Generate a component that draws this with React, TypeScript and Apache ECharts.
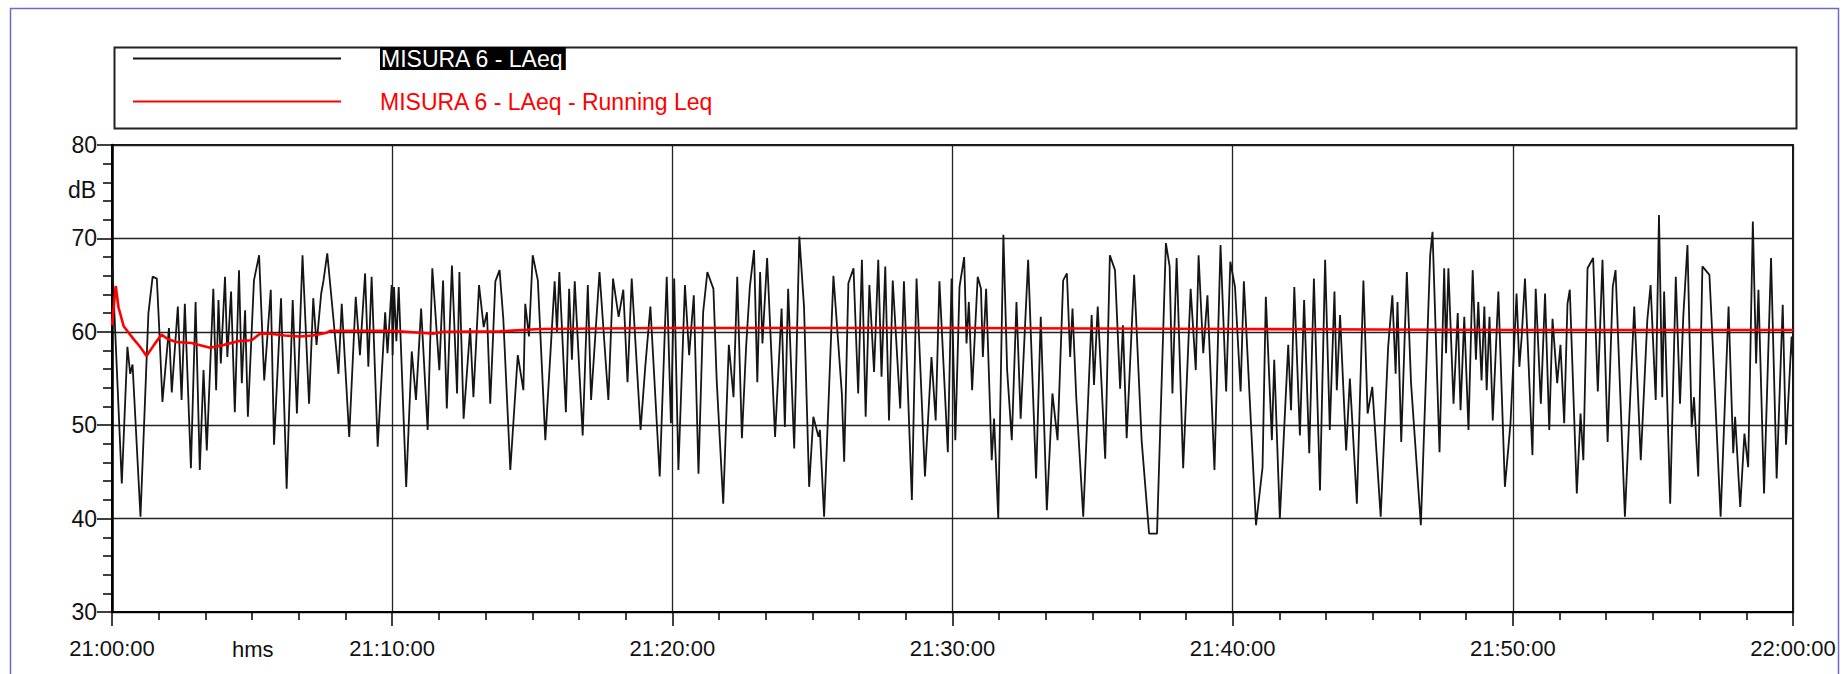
import React, { useEffect, useRef } from "react";
import * as echarts from "echarts";

const FONT = "'Liberation Sans', Arial, Helvetica, sans-serif";
const NAME_LAEQ = "MISURA 6 - LAeq";
const NAME_RUN = "MISURA 6 - LAeq - Running Leq";

const X_TICK_LABELS = ["21:00:00", "21:10:00", "21:20:00", "21:30:00", "21:40:00", "21:50:00", "22:00:00"];

// seconds after 21:00:00
const laeqSeconds = [
  0, 1, 21, 33, 39, 44, 61, 78, 87, 96, 101, 108, 122, 128, 141, 149, 156, 169, 179, 188, 196, 203, 217, 223, 228, 233, 242, 247, 255, 263, 272, 278, 285, 291, 304, 315, 326, 340, 347, 362, 374, 387, 396, 408, 422, 431, 438, 448, 453, 461, 474, 485, 492, 508, 522, 531, 542, 549, 556, 569, 585, 590, 599,
  601, 604, 609, 614, 630, 642, 651, 662, 676, 686, 701, 709, 717, 728, 739, 744, 753, 767, 774, 786, 796, 803, 810, 821, 830, 838, 853, 869, 881, 885, 893, 901, 912, 928, 948, 953, 958, 972, 979, 985, 991, 1008, 1019, 1026, 1044, 1063, 1073, 1085, 1095, 1104, 1113, 1132, 1142, 1153, 1173, 1188, 1197,
  1204, 1213, 1227, 1236, 1246, 1256, 1266, 1275, 1288, 1295, 1309, 1321, 1331, 1339, 1349, 1358, 1366, 1375, 1382, 1388, 1393, 1403, 1420, 1434, 1441, 1448, 1461, 1472, 1482, 1493, 1502, 1513, 1516, 1525, 1545, 1563, 1568, 1577, 1588, 1598, 1606, 1614, 1622, 1632, 1641, 1648, 1656, 1664, 1672, 1688, 1696, 1713, 1723, 1741, 1755, 1764, 1772, 1790, 1798,
  1806, 1815, 1825, 1830, 1835, 1842, 1854, 1861, 1865, 1872, 1884, 1889, 1898, 1909, 1917, 1927, 1937, 1946, 1962, 1979, 1989, 2002, 2014, 2025, 2037, 2045, 2052, 2057, 2065, 2080, 2098, 2103, 2111, 2127, 2137, 2148, 2159, 2165, 2173, 2189, 2205, 2221, 2238, 2257, 2265, 2271, 2280, 2294, 2310, 2321, 2327, 2337, 2346, 2361, 2374, 2386, 2395, 2405,
  2417, 2424, 2450, 2464, 2471, 2484, 2489, 2501, 2519, 2525, 2532, 2544, 2553, 2564, 2574, 2587, 2598, 2608, 2618, 2623, 2630, 2643, 2651, 2666, 2680, 2689, 2699, 2717, 2733, 2742, 2749, 2753, 2761, 2773, 2782, 2803, 2823, 2828, 2843, 2853, 2857, 2862, 2873, 2882, 2888, 2896, 2905, 2914, 2921, 2926, 2933, 2939, 2944, 2950, 2957, 2969, 2983, 2995,
  3008, 3014, 3019, 3026, 3042, 3049, 3060, 3069, 3078, 3085, 3095, 3102, 3110, 3117, 3122, 3137, 3145, 3151, 3160, 3172, 3182, 3192, 3203, 3214, 3220, 3240, 3260, 3274, 3288, 3295, 3306, 3313, 3320, 3324, 3337, 3349, 3358, 3365, 3374, 3383, 3388, 3397, 3406, 3421, 3426, 3445, 3462, 3472, 3476, 3487, 3496, 3504, 3514, 3521, 3526, 3538, 3553, 3565, 3578, 3585, 3597, 3600,
];

const laeqDb = [
  65.5, 66.8, 43.75, 58.4, 55.5, 56.5, 40.2, 62, 65.9, 65.7, 60.5, 52.5, 60.4, 53.5, 62.7, 52.7, 63, 45.4, 63.2, 45.2, 55.9, 47.3, 64.6, 53.75, 63.4, 56.6, 65.9, 57.3, 64.3, 51.4, 66.6, 54.5, 62.3, 50.9, 65.5, 68.2, 54.8, 64.5, 47.9, 63.6, 43.2, 63.4, 51.25, 68.2, 52.3, 63.6, 58.6, 64.1, 65.5, 68.4, 61.5, 55.5, 63, 48.75, 63.75, 57.5, 66.25, 56.25, 65.9, 47.7, 62.1, 57.7, 65,
  57.5, 64.8, 59, 64.8, 43.4, 57.9, 52.7, 62.5, 49.5, 66.8, 55.9, 65.5, 51.8, 67.1, 53.4, 66.4, 50.7, 60.4, 53, 65, 60.5, 62.1, 52.3, 65.4, 66.6, 61.4, 45.2, 57.5, 53.75, 63, 59.5, 68.2, 65.5, 48.4, 65.4, 60, 66.4, 51.4, 64.6, 57, 65.4, 48.9, 65, 52.7, 66.4, 52.7, 65.7, 61.6, 64.5, 54.6, 65.7, 49.5, 56.25, 62.7, 44.5, 65.9, 50.2,
  65.7, 45.2, 65, 57.5, 63.9, 44.8, 62.1, 66.4, 64.6, 54.8, 41.6, 58.6, 53, 65.9, 48.6, 58.4, 64.8, 68.75, 54.6, 66.4, 58.75, 67.9, 48.75, 62.5, 49.8, 64.6, 47.5, 70.2, 62.7, 43.4, 50.9, 48.75, 49.5, 40.2, 66, 53.4, 46.1, 65.2, 66.8, 53.4, 67.7, 50.9, 65, 55.7, 67.7, 55.2, 67, 50.5, 65.5, 51.8, 65.4, 42, 65.7, 44.5, 57.3, 50.5, 65.4, 47.1, 65.7,
  48.4, 64.8, 68, 58.75, 63.2, 53.75, 65.9, 64.6, 57.3, 64.6, 46.25, 50.7, 40, 70.4, 55.9, 48.4, 63.2, 50.7, 67.7, 44.3, 61.6, 40.9, 53.4, 48.4, 65.5, 66.25, 57.3, 62.5, 53, 40.2, 61.8, 54.3, 62.7, 46.4, 68.2, 66.6, 53.9, 60.7, 48.6, 66.1, 48.4, 38.4, 38.4, 69.5, 67, 53.4, 67.9, 45.4, 64.6, 55.9, 68.2, 57.7, 63.9, 45.2, 69.3, 53.6, 67.5, 64.8,
  53.6, 65.4, 39.3, 45.5, 63.75, 48.4, 57, 40, 58.6, 51.6, 64.8, 48.9, 63.4, 47, 65.7, 43, 67.7, 49.5, 64.3, 53.75, 61.8, 47.3, 55, 41.6, 65.5, 51.25, 54.1, 40.2, 58.4, 63.9, 55.5, 63.2, 48.2, 66.4, 54.5, 39.3, 68.2, 70.7, 47.1, 66.8, 57.7, 66.8, 52.3, 62, 51.6, 61.6, 49.5, 66.6, 57, 63.2, 54.8, 62.7, 53.75, 61.6, 50.5, 64.3, 43.4, 50.2,
  64.1, 56.25, 59.5, 65.7, 46.8, 64.6, 52.3, 64.1, 49.5, 61.4, 54.5, 58.6, 50.2, 63, 64.5, 42.7, 51.25, 46.25, 66.8, 67.9, 53.6, 67.7, 48.2, 64.8, 66.6, 40.2, 62.7, 46.25, 61.25, 65, 52.7, 72.5, 53, 64.3, 41.6, 65.9, 52.3, 61.6, 69.3, 49.8, 53, 44.5, 67, 66.1, 60.9, 40.2, 62.7, 47, 50.9, 41.25, 49.1, 45.5, 71.8, 56.6, 64.5, 42.7, 67.9, 44.3, 62.9, 47.9, 59.5, 57,
];

const runSeconds = [0, 8, 14, 25, 45, 60, 74, 90, 106, 120, 138, 170, 210, 240, 270, 299, 317, 340, 370, 402, 430, 460, 467, 520, 600, 660, 688, 709, 830, 916, 1045, 1200, 1500, 1800, 2100, 2400, 2700, 3000, 3300, 3600];
const runDb = [60.7, 64.9, 62.6, 60.6, 59.3, 58.4, 57.4, 58.6, 59.7, 59.2, 58.9, 58.8, 58.3, 58.6, 59.0, 59.1, 59.8, 59.8, 59.6, 59.5, 59.6, 59.9, 60.1, 60.1, 60.1, 59.9, 59.8, 60.0, 60.05, 60.3, 60.35, 60.4, 60.4, 60.4, 60.35, 60.3, 60.25, 60.2, 60.2, 60.2];

const zip = (xs: number[], ys: number[]) => xs.map((x, i) => [x, ys[i]]);

export default function App() {
  const ref = useRef<HTMLDivElement>(null);
  useEffect(() => {
    const chart = echarts.init(ref.current as HTMLDivElement, null, { renderer: "svg" });
    const option: any = {
      animation: false,
      backgroundColor: "#ffffff",
      textStyle: { fontFamily: FONT },
      grid: {
        left: 112,
        top: 145,
        width: 1681,
        height: 467,
        show: true,
        borderColor: "#111",
        borderWidth: 2,
        backgroundColor: "transparent",
      },
      legend: {
        orient: "vertical",
        left: 128,
        top: 42,
        itemWidth: 208,
        itemHeight: 2,
        itemGap: 20,
        icon: "rect",
        selectedMode: false,
        data: [NAME_LAEQ, NAME_RUN],
        formatter: (n: string) => (n === NAME_LAEQ ? `{sp|}{hl|${n}}` : `{sp|}{rd|${n}}`),
        textStyle: {
          fontFamily: FONT,
          fontSize: 23,
          rich: {
            sp: { width: 34 },
            hl: { backgroundColor: "#000", color: "#fff", fontSize: 23, fontFamily: FONT, lineHeight: 28, padding: [0, 2, 0, 1] },
            rd: { color: "#ff0000", fontSize: 23, fontFamily: FONT, lineHeight: 28 },
          },
        },
      },
      xAxis: {
        type: "value",
        min: 0,
        max: 3600,
        interval: 600,
        axisLine: { show: true, lineStyle: { color: "#000", width: 2 } },
        axisTick: { show: true, inside: false, length: 14, lineStyle: { color: "#000", width: 1.5 } },
        minorTick: { show: true, splitNumber: 6, length: 8, lineStyle: { color: "#000", width: 1.5 } },
        splitLine: { show: true, lineStyle: { color: "#222", width: 1.3 } },
        axisLabel: {
          margin: 25,
          fontSize: 22,
          fontFamily: FONT,
          color: "#111",
          formatter: (v: number) => X_TICK_LABELS[Math.round(v / 600)],
        },
      },
      yAxis: {
        type: "value",
        min: 30,
        max: 80,
        interval: 10,
        axisLine: { show: true, lineStyle: { color: "#000", width: 2.5 } },
        axisTick: { show: true, inside: false, length: 15, lineStyle: { color: "#000", width: 1.5 } },
        minorTick: { show: true, splitNumber: 5, length: 9, lineStyle: { color: "#000", width: 1.5 } },
        splitLine: { show: true, lineStyle: { color: "#222", width: 1.3 } },
        axisLabel: { margin: 15, fontSize: 23, fontFamily: FONT, color: "#111" },
      },
      graphic: [
        {
          type: "rect",
          left: 8,
          top: 6,
          shape: { width: 1828, height: 700 },
          style: { fill: "none", stroke: "#6b6bc6", lineWidth: 1.5 },
          silent: true,
        },
        {
          type: "rect",
          left: 112,
          top: 45,
          shape: { width: 1682, height: 81 },
          style: { fill: "none", stroke: "#222", lineWidth: 2 },
          silent: true,
        },
        {
          type: "text",
          left: 68,
          top: 178,
          style: { text: "dB", fontSize: 23, fontFamily: FONT, fill: "#111" },
        },
        {
          type: "text",
          left: 232,
          top: 638,
          style: { text: "hms", fontSize: 22, fontFamily: FONT, fill: "#111" },
        },
      ],
      series: [
        {
          name: NAME_LAEQ,
          type: "line",
          data: zip(laeqSeconds, laeqDb),
          showSymbol: false,
          symbol: "none",
          lineStyle: { color: "#151515", width: 1.8 },
          itemStyle: { color: "#151515" },
          z: 2,
        },
        {
          name: NAME_RUN,
          type: "line",
          data: zip(runSeconds, runDb),
          showSymbol: false,
          symbol: "none",
          lineStyle: { color: "#ff0000", width: 2.6 },
          itemStyle: { color: "#ff0000" },
          z: 3,
        },
      ],
    };
    chart.setOption(option);
    return () => chart.dispose();
  }, []);
  return (
    <div
      ref={ref}
      style={{ position: "fixed", left: 0, top: 0, width: 1842, height: 674, background: "#fff" }}
    />
  );
}
